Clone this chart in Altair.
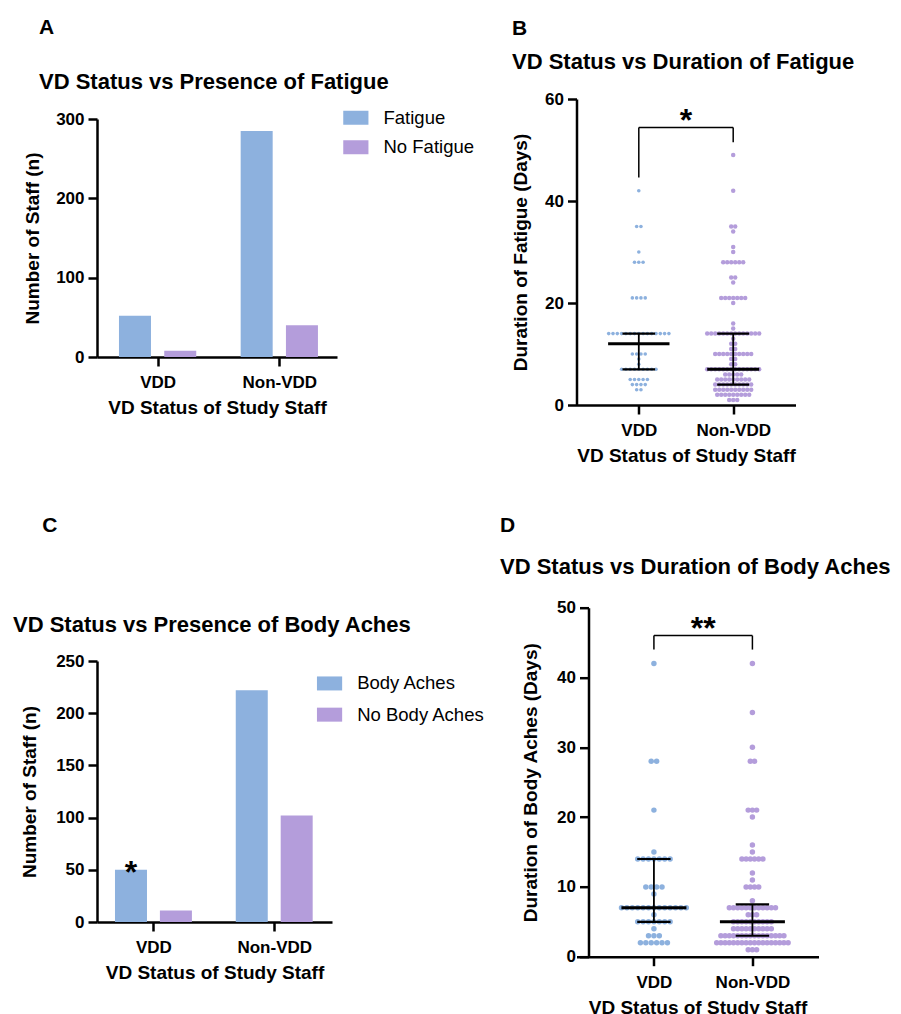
import altair as alt
import pandas as pd

# ---------------- data ----------------
groups = ["VDD", "Non-VDD"]

# Panel A: presence of fatigue (number of staff)
fatigue_n = [52, 285]
no_fatigue_n = [8, 40]

# Panel C: presence of body aches (number of staff)
body_aches_n = [50, 222]
no_body_aches_n = [11, 102]

# Panel B: duration of fatigue (days) -> number of staff at that value
fat_vdd_days = [3, 4, 5, 7, 8, 9, 10, 14, 21, 28, 30, 35, 42]
fat_vdd_count = [2, 4, 5, 9, 1, 1, 4, 15, 4, 3, 1, 2, 1]
fat_non_days = [1, 2, 3, 4, 5, 6, 7, 8, 9, 10, 11, 12, 13, 14, 15, 16,
                20, 21, 24, 25, 28, 30, 31, 34, 35, 42, 49]
fat_non_count = [3, 9, 10, 10, 9, 5, 14, 2, 2, 10, 2, 2, 1, 14, 1, 1,
                 1, 7, 1, 2, 6, 1, 1, 1, 2, 1, 1]
fat_median = [12, 7]
fat_q1 = [7, 4]
fat_q3 = [14, 14]

# Panel D: duration of body aches (days) -> number of staff at that value
ache_vdd_days = [2, 3, 4, 5, 6, 7, 9, 10, 14, 15, 21, 28, 42]
ache_vdd_count = [6, 3, 1, 7, 1, 13, 1, 4, 7, 1, 1, 2, 1]
ache_non_days = [1, 2, 3, 4, 5, 6, 7, 8, 10, 11, 12, 14, 15, 16, 20, 21, 28, 30, 35, 42]
ache_non_count = [3, 18, 16, 10, 10, 3, 12, 1, 4, 1, 1, 6, 1, 1, 1, 3, 2, 1, 1, 1]
ache_median = [7, 5]
ache_q1 = [5, 3]
ache_q3 = [14, 7.5]

# significance annotations (y in data units)
fat_bracket_y = [54.4, 44.6, 51.5]     # top, left foot, right foot
fat_sig = "*"
fat_sig_y = 57.5
ache_bracket_y = [46.0, 44.0, 44.0]
ache_sig = "**"
ache_sig_y = 48.3
c_sig = "*"
c_sig_y = 55.3

# ---------------- style ----------------
FONT = "Liberation Sans"
BLUE = "#8DB1DE"
PURPLE = "#B49DDB"
BAR_SHIFT = 0.186   # bar centre offset from group centre (group units)

# plot geometry (px) and x domains
A_W, A_H, A_DOM = 240, 238, [-0.457, 1.433]
C_W, C_H, C_DOM = 235, 261, [-0.426, 1.437]
B_W, B_H, B_DOM = 219, 306, [-0.66, 1.66]
D_W, D_H, D_DOM = 242, 349, [-0.786, 1.671]


def ppu(w, dom):
    return w / (dom[1] - dom[0])


def x_axis():
    return alt.Axis(values=[0, 1], labelExpr="datum.value == 0 ? 'VDD' : 'Non-VDD'",
                    title="VD Status of Study Staff", labelFontSize=17, titleFontSize=19,
                    labelPadding=8.5, titlePadding=8, labelFlush=False, labelOverlap=False)


def X(field, dom):
    return alt.X(f"{field}:Q", scale=alt.Scale(domain=dom, nice=False, zero=False), axis=x_axis())


def Y(field, dom, values, title, title_pad=13, offset=0):
    return alt.Y(f"{field}:Q", scale=alt.Scale(domain=dom, nice=False, zero=True),
                 axis=alt.Axis(values=values, title=title, labelFontSize=17, titleFontSize=19,
                               labelPadding=4, titlePadding=title_pad, offset=offset),
                 stack=None)


def legend(x, y, row_pad):
    return alt.Legend(orient="none", legendX=x, legendY=y, title=None, labelFont=FONT,
                      labelFontSize=18.5, labelFontWeight="normal", labelColor="black",
                      symbolType="M-1.8,-1H1.8V1H-1.8Z", symbolSize=196, symbolStrokeWidth=0,
                      symbolOpacity=1, labelOffset=18.4, rowPadding=row_pad, direction="vertical")


def ttl(letter, text, sub_pad, offset, dx):
    return alt.TitleParams(text=letter, subtitle=text, anchor="start", frame="group",
                           font=FONT, fontSize=21, fontWeight="bold", color="black",
                           subtitleFont=FONT, subtitleFontSize=22, subtitleFontWeight="bold",
                           subtitleColor="black", subtitlePadding=sub_pad, offset=offset, dx=dx)


def bar_panel(yes_n, no_n, yes_lab, no_lab, W, H, dom, ymax, yvals, leg, title, y_pad, star=None):
    rows = []
    for i, g in enumerate(groups):
        rows.append({"group": g, "status": yes_lab, "xc": i - BAR_SHIFT, "n": yes_n[i]})
        rows.append({"group": g, "status": no_lab, "xc": i + BAR_SHIFT, "n": no_n[i]})
    df = pd.DataFrame(rows)
    yy = lambda f: Y(f, [0, ymax], yvals, "Number of Staff (n)", y_pad)
    bars = alt.Chart(df).mark_bar(size=32, orient="vertical").encode(
        x=X("xc", dom),
        y=yy("n"),
        color=alt.Color("status:N", scale=alt.Scale(domain=[yes_lab, no_lab], range=[BLUE, PURPLE]),
                        legend=leg),
    )
    layers = [bars]
    if star is not None:
        sdf = pd.DataFrame([{"xc": -BAR_SHIFT, "n": star[1], "t": star[0]}])
        layers.append(alt.Chart(sdf).mark_text(font=FONT, fontSize=32, fontWeight="bold",
                                               baseline="alphabetic", dy=19, color="black").encode(
            x=X("xc", dom), y=yy("n"), text="t:N"))
    return alt.layer(*layers).properties(width=W, height=H, title=title)


def swarm(day_lists, count_lists, pitches, pxu):
    rows = []
    for gi, (days, counts) in enumerate(zip(day_lists, count_lists)):
        for d, c in zip(days, counts):
            for k in range(c):
                off = (k - (c - 1) / 2) * pitches[gi] / pxu
                rows.append({"group": groups[gi], "xs": gi + off, "days": d})
    return pd.DataFrame(rows)


def dot_panel(day_lists, count_lists, pitches, sizes, med, q1, q3, med_hw, cap_hw,
              bracket, sig, sig_y, W, H, dom, ymax, yvals, ytitle, title, y_title_pad, y_offset):
    pxu = ppu(W, dom)
    df = swarm(day_lists, count_lists, pitches, pxu)
    yy = lambda f: Y(f, [0, ymax], yvals, ytitle, y_title_pad, y_offset)
    pts = alt.Chart(df).mark_circle(opacity=1).encode(
        x=X("xs", dom), y=yy("days"),
        color=alt.Color("group:N", scale=alt.Scale(domain=groups, range=[BLUE, PURPLE]), legend=None),
        size=alt.Size("group:N", scale=alt.Scale(domain=groups, range=sizes), legend=None),
    )
    layers = [pts]
    st = pd.DataFrame({"g": [0, 1], "med": med, "q1": q1, "q3": q3})
    for i in range(2):
        base = alt.Chart(st[st.g == i])
        layers.append(base.mark_rule(color="black", strokeWidth=1.8).encode(
            x=X("g", dom), y=yy("q1"), y2="q3:Q"))
        for f in ["q1", "q3"]:
            layers.append(base.mark_rule(color="black", strokeWidth=2.2,
                                         xOffset=-cap_hw[i], x2Offset=cap_hw[i]).encode(
                x=X("g", dom), x2="g:Q", y=yy(f)))
        layers.append(base.mark_rule(color="black", strokeWidth=3,
                                     xOffset=-med_hw[i], x2Offset=med_hw[i]).encode(
            x=X("g", dom), x2="g:Q", y=yy("med")))
    bdf = pd.DataFrame({"xa": [0, 0, 1], "xb": [1, 0, 1],
                        "ya": [bracket[0], bracket[1], bracket[2]],
                        "yb": [bracket[0], bracket[0], bracket[0]]})
    layers.append(alt.Chart(bdf).mark_rule(color="black", strokeWidth=1.5).encode(
        x=X("xa", dom), x2="xb:Q", y=yy("ya"), y2="yb:Q"))
    tdf = pd.DataFrame([{"xt": 0.5, "yt": sig_y, "t": sig}])
    layers.append(alt.Chart(tdf).mark_text(font=FONT, fontSize=32, fontWeight="bold",
                                           baseline="alphabetic", dy=19, color="black").encode(
        x=X("xt", dom), y=yy("yt"), text="t:N"))
    return alt.layer(*layers).properties(width=W, height=H, title=title)


A = bar_panel(fatigue_n, no_fatigue_n, "Fatigue", "No Fatigue", A_W, A_H, A_DOM, 300,
              [0, 100, 200, 300], legend(249.6, -10.5, 10.5),
              ttl("A", "VD Status vs Presence of Fatigue", 34.5, 15.5, -58), 13)

C = bar_panel(body_aches_n, no_body_aches_n, "Body Aches", "No Body Aches", C_W, C_H, C_DOM, 250,
              [0, 50, 100, 150, 200, 250], legend(223.3, 13.2, 12.2),
              ttl("\u200b\u00a0\u00a0\u00a0\u00a0\u00a0C", "VD Status vs Presence of Body Aches", 79.5, 16, -84),
              16, star=(c_sig, c_sig_y))

B = dot_panel([fat_vdd_days, fat_non_days], [fat_vdd_count, fat_non_count], [4.3, 4.0], [13, 20],
              fat_median, fat_q1, fat_q3, [30.7, 26], [16.3, 16], fat_bracket_y, fat_sig, fat_sig_y,
              B_W, B_H, B_DOM, 60, [0, 20, 40, 60], "Duration of Fatigue (Days)",
              ttl("B", "VD Status vs Duration of Fatigue", 13.5, 17, -64.5), 14.5, 0)

D = dot_panel([ache_vdd_days, ache_non_days], [ache_vdd_count, ache_non_count], [5.4, 4.2], [30, 30],
              ache_median, ache_q1, ache_q3, [32.5, 32.5], [16.7, 16.7], ache_bracket_y, ache_sig, ache_sig_y,
              D_W, D_H, D_DOM, 50, [0, 10, 20, 30, 40, 50], "Duration of Body Aches (Days)",
              ttl("D", "VD Status vs Duration of Body Aches", 21.5, 20.5, -76.5), 16.5, -12)

# invisible spacer that lowers the left column's plots by 20 px relative to the right column
spacer = alt.Chart(pd.DataFrame({"s": [0]})).mark_point(opacity=0).encode(
    x=alt.value(0), y=alt.value(0)).properties(width=1, height=20)

left_inner = alt.vconcat(A, C, spacing=304, bounds="flush").resolve_scale(color="independent", size="independent")
left = alt.vconcat(spacer, left_inner, spacing=0, bounds="flush").resolve_scale(color="independent", size="independent")
right = alt.vconcat(B, D, spacing=202.7, bounds="flush").resolve_scale(color="independent", size="independent")

chart = alt.hconcat(left, right, spacing=13.5).resolve_scale(
    color="independent", size="independent"
).properties(
    padding={"left": 5, "top": 8, "right": 0, "bottom": 0}
).configure_view(stroke=None).configure_axis(
    grid=False, labelFont=FONT, titleFont=FONT, labelFontWeight="bold", titleFontWeight="bold",
    labelColor="black", titleColor="black", domainColor="black", tickColor="black",
    domainWidth=2.5, tickWidth=2.5, tickSize=9
)

chart.save("out.html", embed_options={"renderer": "svg", "actions": False})
